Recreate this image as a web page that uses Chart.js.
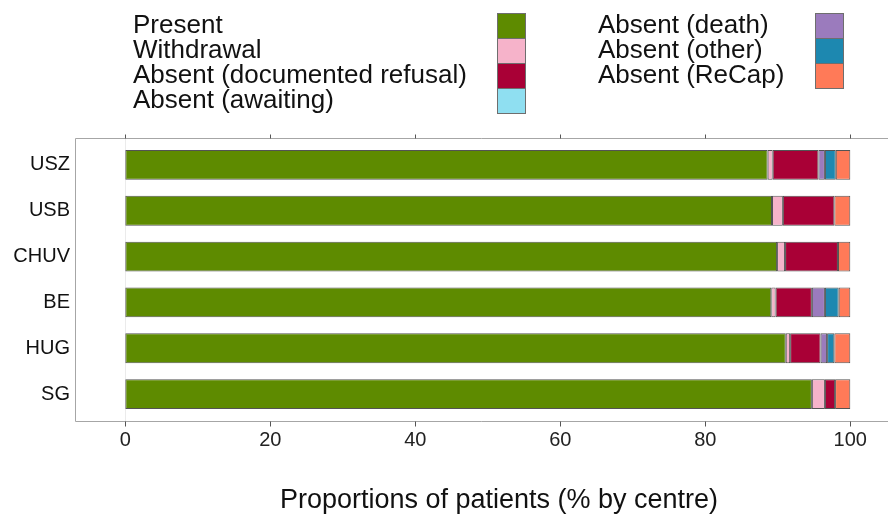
<!DOCTYPE html>
<html>
<head>
<meta charset="utf-8">
<script src="https://cdn.jsdelivr.net/npm/chart.js@4/dist/chart.umd.min.js"></script>
<style>
  html, body { margin: 0; padding: 0; background: #fff; }
  canvas { display: block; }
</style>
</head>
<body>
<canvas id="centreChart" width="888" height="518"></canvas>
<script>
// categories (top to bottom)
const centres = ['USZ', 'USB', 'CHUV', 'BE', 'HUG', 'SG'];

// series values, % by centre
const present    = [88.6, 89.2, 89.9, 89.1, 91.1, 94.7];
const withdrawal = [0.7, 1.5, 1.1, 0.6, 0.6, 1.8];
const refusal    = [6.3, 7.1, 7.3, 5.0, 4.2, 1.4];
const awaiting   = [0, 0, 0, 0, 0, 0];
const death      = [0.9, 0, 0, 1.8, 0.9, 0];
const other      = [1.5, 0, 0, 1.9, 1.0, 0];
const recap      = [2.0, 2.2, 1.7, 1.6, 2.2, 2.1];

const seriesNames = ['Present', 'Withdrawal', 'Absent (documented refusal)', 'Absent (awaiting)',
                     'Absent (death)', 'Absent (other)', 'Absent (ReCap)'];
const seriesValues = [present, withdrawal, refusal, awaiting, death, other, recap];
const seriesColors = ['#5e8b00', '#f6b3ca', '#a90036', '#8fdff1', '#9b7bbd', '#1d88b0', '#ff7a58'];

const xTicks = [0, 20, 40, 60, 80, 100];
const xTitle = 'Proportions of patients (% by centre)';

const FONT = "'Liberation Sans', Arial, sans-serif";

// panel frame, ticks, legend and axis title
const decorations = {
    id: 'decorations',
    beforeDatasetsDraw(chart) {
        const { ctx, chartArea } = chart;
        const x = chart.scales.x;
        const top = chartArea.top - 4, bottom = chartArea.bottom + 4;
        ctx.save();
        // faint line at zero
        ctx.strokeStyle = '#ebebeb';
        ctx.lineWidth = 1;
        const x0 = Math.round(x.getPixelForValue(0)) + 0.5;
        ctx.beginPath();
        ctx.moveTo(x0, top); ctx.lineTo(x0, bottom);
        ctx.stroke();
        ctx.restore();
    },
    afterDraw(chart) {
        const { ctx, chartArea } = chart;
        const x = chart.scales.x;
        const top = Math.round(chartArea.top - 4) + 0.5;
        const bottom = Math.round(chartArea.bottom + 4) + 0.5;
        const left = Math.round(chartArea.left) + 0.5;
        ctx.save();
        ctx.strokeStyle = '#a6a6a6';
        ctx.lineWidth = 1;
        ctx.beginPath();
        ctx.moveTo(chart.width, top); ctx.lineTo(left, top);
        ctx.lineTo(left, bottom); ctx.lineTo(chart.width, bottom);
        ctx.stroke();

        // tick marks, top and bottom
        ctx.strokeStyle = '#555';
        xTicks.forEach(v => {
            const px = Math.round(x.getPixelForValue(v)) + 0.5;
            ctx.beginPath();
            ctx.moveTo(px, top - 4); ctx.lineTo(px, top);
            ctx.moveTo(px, bottom); ctx.lineTo(px, bottom + 5);
            ctx.stroke();
        });

        // axis title
        ctx.fillStyle = '#111';
        ctx.font = '27px ' + FONT;
        ctx.textAlign = 'center';
        ctx.textBaseline = 'middle';
        ctx.fillText(xTitle, 499, 501);

        // legend
        const textX = [133, 598], keyX = [497, 815];
        ctx.font = '26px ' + FONT;
        ctx.textAlign = 'left';
        seriesNames.forEach((name, i) => {
            const col = i < 4 ? 0 : 1;
            const row = i < 4 ? i : i - 4;
            const ky = 13 + row * 25;
            ctx.fillStyle = seriesColors[i];
            ctx.fillRect(keyX[col], ky, 28, 25);
            ctx.strokeStyle = '#6e6e6e';
            ctx.strokeRect(keyX[col] + 0.5, ky + 0.5, 28, 25);
            ctx.fillStyle = '#111';
            ctx.fillText(name, textX[col], ky + 13);
        });
        ctx.restore();
    }
};

new Chart(document.getElementById('centreChart').getContext('2d'), {
    type: 'bar',
    data: {
        labels: centres,
        datasets: seriesNames.map((name, i) => ({
            label: name,
            data: seriesValues[i].map(v => (v > 0 ? v : null)),
            backgroundColor: seriesColors[i],
            borderColor: 'rgba(40,40,40,0.8)',
            borderWidth: 1,
            borderSkipped: false,
            barPercentage: 0.65,
            categoryPercentage: 1
        }))
    },
    options: {
        indexAxis: 'y',
        responsive: false,
        animation: false,
        layout: { padding: { top: 142, left: 0, right: 0, bottom: 0 } },
        plugins: {
            legend: { display: false },
            tooltip: { enabled: false }
        },
        scales: {
            x: {
                stacked: true,
                min: -6.94,
                max: 105.2,
                border: { display: false },
                grid: { display: false, drawTicks: false },
                afterBuildTicks: (scale) => { scale.ticks = xTicks.map(v => ({ value: v })); },
                afterFit: (scale) => { scale.height = 101; },
                ticks: {
                    padding: 11,
                    maxRotation: 0,
                    color: '#222',
                    font: { family: FONT, size: 20 }
                }
            },
            y: {
                stacked: true,
                border: { display: false },
                grid: { display: false, drawTicks: false },
                afterFit: (scale) => { scale.width = 75; },
                ticks: {
                    padding: 5,
                    color: '#111',
                    font: { family: FONT, size: 20 }
                }
            }
        }
    },
    plugins: [decorations]
});
</script>
</body>
</html>
